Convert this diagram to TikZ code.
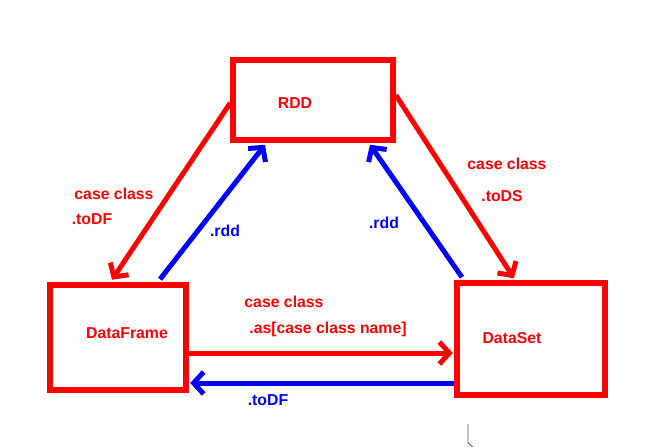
\documentclass[tikz,border=0pt]{standalone}
\usepackage{fontspec}
\setmainfont{Liberation Sans}
\usetikzlibrary{arrows.meta}
\definecolor{pured}{RGB}{255,0,0}
\definecolor{publ}{RGB}{0,0,255}
\tikzset{
  box/.style={draw=pured, line width=5.5pt, rectangle, inner sep=0pt},
  lbl/.style={font=\fontsize{15.8}{19}\selectfont\bfseries, inner sep=0pt, anchor=center},
  rlbl/.style={lbl, text=pured},
  blbl/.style={lbl, text=publ},
  conn/.style={line width=5pt, -{Straight Barb[length=10pt,width=22pt,line width=5pt]}},
  rconn/.style={conn, draw=pured},
  bconn/.style={conn, draw=publ}
}
\begin{document}
\begin{tikzpicture}[x=1pt,y=-1pt]
\useasboundingbox[fill=white] (0,0) rectangle (657,447);
% boxes
\node[box, minimum width=160pt, minimum height=80pt] (rdd) at (313,100) {};
\node[box, minimum width=136pt, minimum height=105pt] (df) at (118,337.5) {};
\node[box, minimum width=148pt, minimum height=112pt] (ds) at (531,339) {};
% box texts
\node[rlbl] (trdd) at (295,103) {RDD};
\node[rlbl] (tdf) at (127,333) {DataFrame};
\node[rlbl] (tds) at (512,338) {DataSet};
% connectors
\draw[rconn] ([yshift=-3pt]rdd.west) -- ([xshift=-6pt,yshift=2.5pt]df.north);
\draw[bconn] ([xshift=42pt,yshift=3pt]df.north) -- ([xshift=-48pt,yshift=-2pt]rdd.south);
\draw[rconn] ([yshift=5pt]rdd.east) -- ([xshift=-17pt,yshift=2pt]ds.north);
\draw[bconn] ([xshift=-69pt,yshift=3pt]ds.north) -- ([xshift=57pt,yshift=-2pt]rdd.south);
\coordinate (a5) at ([yshift=-15.5pt]df.east);
\draw[rconn] (a5) -- ([xshift=-1.5pt]a5 -| ds.west);
\coordinate (a6) at ([yshift=-44pt]ds.west);
\draw[bconn] (a6) -- ([xshift=1.5pt]a6 -| df.east);
% connector labels
\node[rlbl] (l1a) at (114,194) {case class};
\node[rlbl] (l1b) at (92,219) {.toDF};
\node[blbl] (l2) at (225,231) {.rdd};
\node[rlbl] (l3a) at (507,164) {case class};
\node[rlbl] (l3b) at (502,196) {.toDS};
\node[blbl] (l4) at (384,223) {.rdd};
\node[rlbl] (l5a) at (284,302) {case class};
\node[rlbl] (l5b) at (328,329) {.as[case class name]};
\node[blbl] (l6) at (268,400) {.toDF};
% cursor mark
\draw[black!70, line width=0.8pt] (468,424) -- (468,443) -- (473,447);
\end{tikzpicture}
\end{document}
